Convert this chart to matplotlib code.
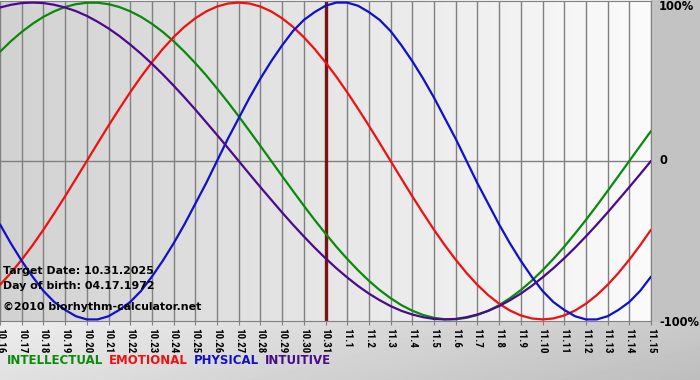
import numpy as np
import matplotlib.pyplot as plt
from matplotlib.colors import LinearSegmentedColormap

# days shown on the x axis
days = ["10.16", "10.17", "10.18", "10.19", "10.20", "10.21", "10.22", "10.23",
        "10.24", "10.25", "10.26", "10.27", "10.28", "10.29", "10.30", "10.31",
        "11.1", "11.2", "11.3", "11.4", "11.5", "11.6", "11.7", "11.8", "11.9",
        "11.10", "11.11", "11.12", "11.13", "11.14", "11.15"]
target_day = "10.31"

# values every half day, from 10.16 to 11.15 (-1 .. 1)
physical = [-0.40, -0.52, -0.63, -0.73, -0.82, -0.89, -0.94, -0.98, -1.00, -1.00,
            -0.98, -0.94, -0.89, -0.82, -0.73, -0.63, -0.52, -0.40, -0.27, -0.14,
            0.00, 0.14, 0.27, 0.40, 0.52, 0.63, 0.73, 0.82, 0.89, 0.94,
            0.98, 1.00, 1.00, 0.98, 0.94, 0.89, 0.82, 0.73, 0.63, 0.52,
            0.40, 0.27, 0.14, 0.00, -0.14, -0.27, -0.40, -0.52, -0.63, -0.73,
            -0.82, -0.89, -0.94, -0.98, -1.00, -1.00, -0.98, -0.94, -0.89, -0.82,
            -0.73]
emotional = [-0.782, -0.707, -0.623, -0.532, -0.434, -0.330, -0.223, -0.112,
             0.000, 0.112, 0.223, 0.330, 0.434, 0.532, 0.623, 0.707, 0.782, 0.847,
             0.901, 0.944, 0.975, 0.994, 1.000, 0.994, 0.975, 0.944, 0.901, 0.847,
             0.782, 0.707, 0.623, 0.532, 0.434, 0.330, 0.223, 0.112, 0.000,
             -0.112, -0.223, -0.330, -0.434, -0.532, -0.623, -0.707, -0.782,
             -0.847, -0.901, -0.944, -0.975, -0.994, -1.000, -0.994, -0.975,
             -0.944, -0.901, -0.847, -0.782, -0.707, -0.623, -0.532, -0.434]
intellectual = [0.690, 0.756, 0.815, 0.866, 0.910, 0.945, 0.972, 0.990, 0.999,
                0.999, 0.990, 0.972, 0.945, 0.910, 0.866, 0.815, 0.756, 0.690,
                0.618, 0.541, 0.458, 0.372, 0.282, 0.189, 0.095, 0.000,
                -0.095, -0.189, -0.282, -0.372, -0.458, -0.541, -0.618, -0.690,
                -0.756, -0.815, -0.866, -0.910, -0.945, -0.972, -0.990, -0.999,
                -0.999, -0.990, -0.972, -0.945, -0.910, -0.866, -0.815, -0.756,
                -0.690, -0.618, -0.541, -0.458, -0.372, -0.282, -0.189, -0.095,
                0.000, 0.095, 0.189]
intuitive = [0.969, 0.986, 0.997, 1.000, 0.997, 0.986, 0.969, 0.946, 0.916,
             0.879, 0.837, 0.789, 0.735, 0.677, 0.614, 0.547, 0.476, 0.402,
             0.325, 0.245, 0.165, 0.083, 0.000, -0.083, -0.165, -0.245, -0.325,
             -0.402, -0.476, -0.547, -0.614, -0.677, -0.735, -0.789, -0.837,
             -0.879, -0.916, -0.946, -0.969, -0.986, -0.997, -1.000, -0.997,
             -0.986, -0.969, -0.946, -0.916, -0.879, -0.837, -0.789, -0.735,
             -0.677, -0.614, -0.547, -0.476, -0.402, -0.325, -0.245, -0.165,
             -0.083, 0.000]

series = [("INTELLECTUAL", intellectual, "#0a8a0a"),
          ("EMOTIONAL", emotional, "#f01010"),
          ("PHYSICAL", physical, "#1010cc"),
          ("INTUITIVE", intuitive, "#4b0a8c")]

W, H = 700, 380
fig = plt.figure(figsize=(W / 100, H / 100), dpi=100)

# figure background: grey panel on the right, soft gradient strip below
bg = fig.add_axes([0, 0, 1, 1])
yy, xx = np.mgrid[0:H, 0:W]
grad = 0.93 - 0.14 * (xx / W) - 0.05 * ((yy - 321) / 60.0)
grad = np.clip(grad, 0.74, 0.95)
grad[:322, 651:] = 0.765
bg.imshow(grad, cmap="gray", vmin=0, vmax=1, aspect="auto", extent=[0, W, H, 0])
bg.set_xlim(0, W)
bg.set_ylim(H, 0)
bg.axis("off")

ax = fig.add_axes([0, 1 - 321 / H, 651 / W, 320 / H])
x = np.arange(len(days))
half_days = np.arange(len(physical)) / 2
ax.set_xlim(0, len(days) - 1)
ax.set_ylim(-1.01, 1.01)

# plot area gradient from grey (left) to white (right)
cmap = LinearSegmentedColormap.from_list("bg", ["#d2d2d2", "#fbfbfb"])
ax.imshow(np.linspace(0, 1, 256)[None, :], cmap=cmap, aspect="auto",
          extent=[0, len(days) - 1, -1.01, 1.01], zorder=0)

for xi in x:
    ax.axvline(xi, color="#808080", lw=1, zorder=1)
ax.axhline(0, color="#808080", lw=1, zorder=1)

ax.axvline(days.index(target_day), color="#7a1414", lw=2.4, zorder=2)

for name, vals, col in series:
    ax.plot(half_days, vals, color=col, lw=1.6, zorder=3, solid_capstyle="round")

for s in ["top", "right", "bottom"]:
    ax.spines[s].set_color("#808080")
ax.spines["left"].set_visible(False)

ax.set_xticks(x)
ax.set_xticklabels(days, rotation=270, fontsize=7.8, fontweight="bold",
                   family="Roboto Condensed")
ax.tick_params(axis="x", length=3, color="#808080", pad=2)
ax.set_yticks([])

info = ["Target Date: 10.31.2025", "Day of birth: 04.17.1972",
        "©2010 biorhythm-calculator.net"]
fig.text(3 / W, 1 - 271 / H, info[0], fontsize=7.9, fontweight="bold", va="center")
fig.text(3 / W, 1 - 286 / H, info[1], fontsize=7.9, fontweight="bold", va="center")
fig.text(3 / W, 1 - 307 / H, info[2], fontsize=7.9, fontweight="bold", va="center")

# right-side percent labels
fig.text(659 / W, 1 - 7 / H, "100%", fontsize=8.3, fontweight="bold", va="center")
fig.text(659 / W, 1 - 161 / H, "0", fontsize=8.3, fontweight="bold", va="center")
fig.text(659 / W, 1 - 322 / H, "-100%", fontsize=8.3, fontweight="bold", va="center")

# legend line
px = 7
for name, vals, col in series:
    t = fig.text(px / W, 1 - 361 / H, name, fontsize=8.5, fontweight="bold",
                 color=col, va="center")
    fig.canvas.draw()
    bb = t.get_window_extent()
    px = bb.x1 + 6

fig.savefig("out.png", dpi=100)
